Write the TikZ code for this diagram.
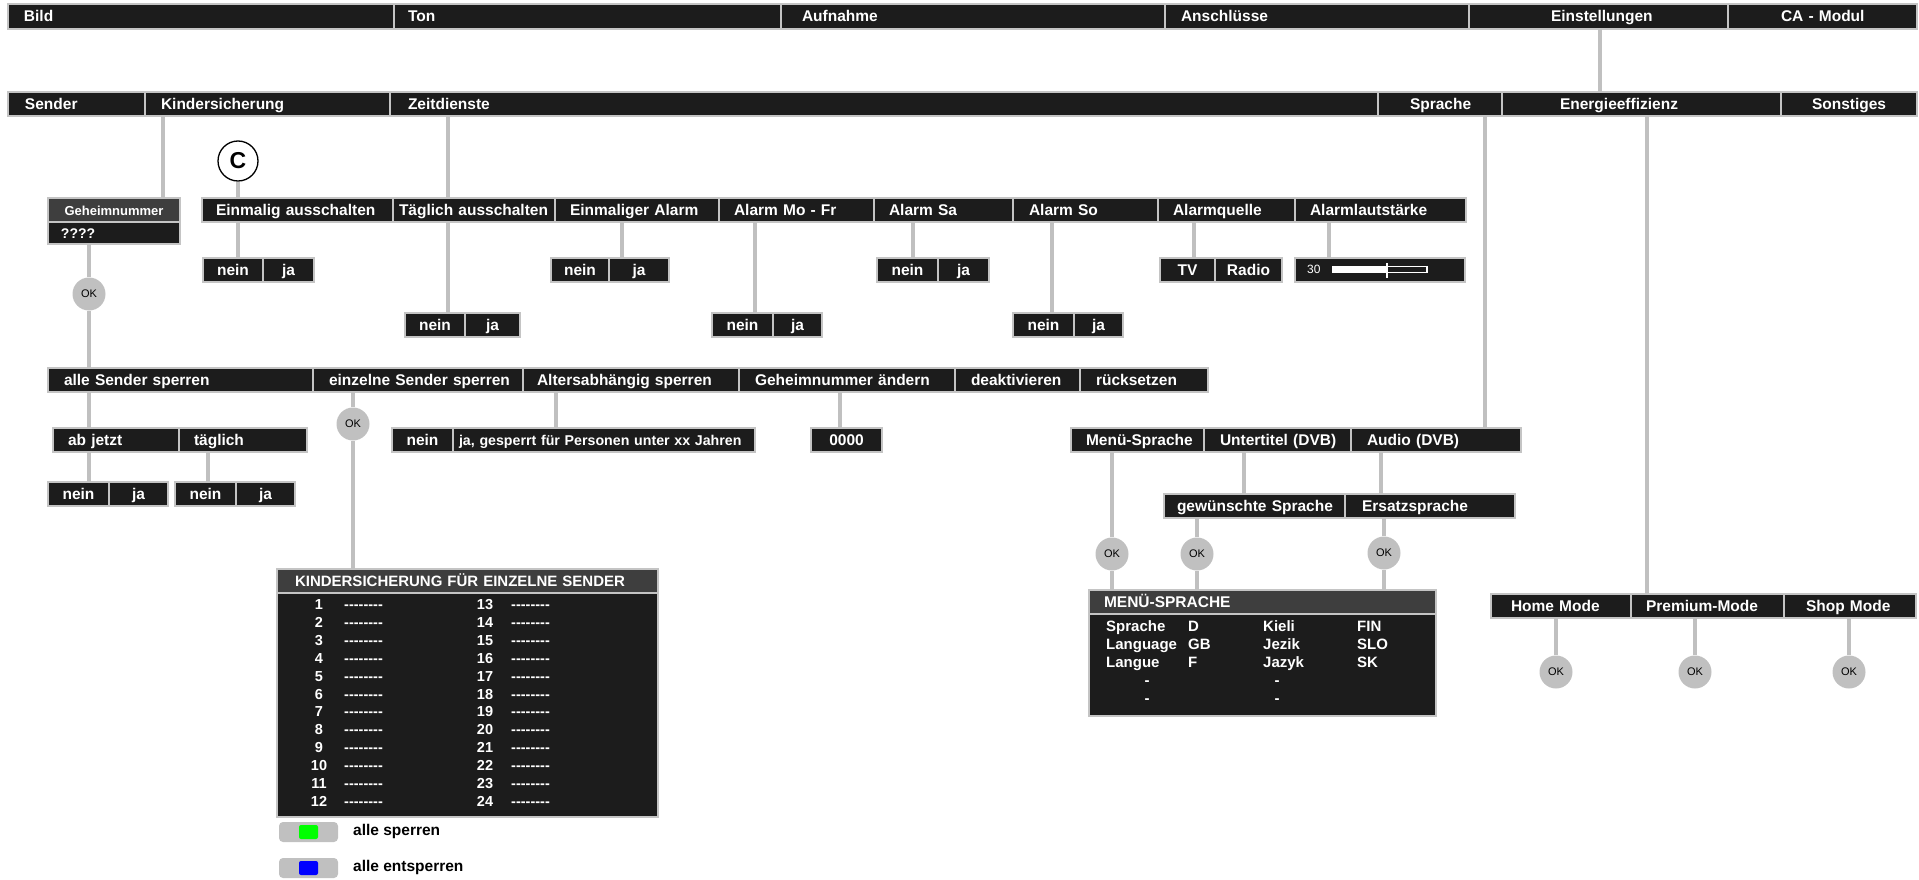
\documentclass[tikz,border=0pt]{standalone}
\usepackage{fontspec}
\setmainfont{Liberation Sans}[Ligatures=TeXOff]
\usetikzlibrary{positioning}

\definecolor{cellbg}{HTML}{1C1C1C}
\definecolor{headbg}{HTML}{3E3E3E}
\definecolor{rim}{HTML}{C4C4C4}
\definecolor{wiregray}{HTML}{C0C0C0}

\newcommand{\cellfont}{\fontsize{15.5}{18}\selectfont\bfseries}
\newcommand{\tabfont}{\fontsize{15}{17}\selectfont\bfseries}

\tikzset{
  box/.style={draw=rim, line width=2pt, fill=cellbg, text=white, font=\cellfont,
    anchor=north west, outer sep=0pt, inner sep=0pt, minimum height=24,
    text height=13, text depth=2},
  toprow/.style={box, minimum height=25},
  head/.style={box, fill=headbg},
  cw/.style 2 args={text width=#1pt, align=left,
    execute at begin node={\hspace*{#2pt}\hbox\bgroup},
    execute at end node={\egroup}},
  cc/.style={minimum width=#1},
  wire/.style={draw=wiregray, line width=4.5pt},
  ok/.style={circle, fill=wiregray, minimum size=33, inner sep=0pt,
    font=\fontsize{11}{13}\selectfont},
  cmark/.style={circle, draw=black, line width=1.3pt, fill=white, minimum size=40,
    inner sep=0pt, font=\fontsize{23}{25}\selectfont\bfseries},
  tabtxt/.style={text=white, font=\tabfont, anchor=west, inner sep=0pt,
    text height=13, text depth=2},
  keybtn/.style={fill=wiregray, rounded corners=4pt, minimum width=59,
    minimum height=20, inner sep=0pt},
  keydot/.style={rounded corners=2pt, minimum width=19, minimum height=14, inner sep=0pt},
  legtxt/.style={font=\cellfont, anchor=west, inner sep=0pt},
}

\begin{document}
\begin{tikzpicture}[x=1pt, y=-1pt]
\useasboundingbox (0,0) rectangle (1919,880);

% main menu
\node[toprow, cw={386}{16}] (bild) at (8,4) {Bild};
\node[toprow, cw={387}{14}] (ton) at (394,4) {Ton};
\node[toprow, cw={384}{21}] (aufnahme) at (781,4) {Aufnahme};
\node[toprow, cw={304}{16}] (anschluss) at (1165,4) {Anschlüsse};
\node[toprow, cw={259}{82}] (einst) at (1469,4) {Einstellungen};
\node[toprow, cw={189}{53}] (camodul) at (1728,4) {CA - Modul};

% Einstellungen
\node[box, cw={137}{17}] (sender) at (8,92) {Sender};
\node[box, cw={245}{16}] (kinder) at (145,92) {Kindersicherung};
\node[box, cw={988}{18}] (zeit) at (390,92) {Zeitdienste};
\node[box, cw={124}{32}] (sprache) at (1378,92) {Sprache};
\node[box, cw={279}{58}] (energie) at (1502,92) {Energieeffizienz};
\node[box, cw={136}{31}] (sonst) at (1781,92) {Sonstiges};
\draw[wire] (1600,0 |- einst.south) -- (1600,0 |- energie.north);

% Kindersicherung
\node[head, cc=132, font=\fontsize{13}{15}\selectfont\bfseries] (geh) at (48,198) {Geheimnummer};
\node[box, minimum height=22, cw={132}{13}, font=\fontsize{14}{16}\selectfont\bfseries] (pin) at (48,222) {????};
\node[ok] (okpin) at (89,294) {OK};
\draw[wire] (163,0 |- kinder.south) -- (163,0 |- geh.north);
\draw[wire] (pin.south -| okpin) -- (okpin.north);

\node[box, cw={265}{16}] (alle) at (48,368) {alle Sender sperren};
\node[box, cw={210}{16}] (einzeln) at (313,368) {einzelne Sender sperren};
\node[box, cw={216}{14}] (alters) at (523,368) {Altersabhängig sperren};
\node[box, cw={216}{16}] (gehneu) at (739,368) {Geheimnummer ändern};
\node[box, cw={125}{16}] (deakt) at (955,368) {deaktivieren};
\node[box, cw={128}{16}] (reset) at (1080,368) {rücksetzen};
\draw[wire] (okpin.south) -- (okpin |- alle.north);

\node[box, cw={126}{15}] (abjetzt) at (53,428) {ab jetzt};
\node[box, cw={128}{15}] (taeglich) at (179,428) {täglich};
\node[box, cc=61] (neinB) at (48,482) {nein};
\node[box, cc=59] (jaB) at (109,482) {ja};
\node[box, cc=61] (neinC) at (175,482) {nein};
\node[box, cc=59] (jaC) at (236,482) {ja};
\draw[wire] (89,0 |- alle.south) -- (89,0 |- abjetzt.north);
\draw[wire] (89,0 |- abjetzt.south) -- (89,0 |- neinB.north);
\draw[wire] (208,0 |- taeglich.south) -- (208,0 |- neinC.north);

\node[ok] (okein) at (353,424) {OK};
\draw[wire] (einzeln.south -| okein) -- (okein.north);

\node[box, cc=61] (neinD) at (392,428) {nein};
\node[box, cw={302}{6}, font=\fontsize{14.2}{16}\selectfont\bfseries] (jaD) at (453,428) {ja, gesperrt für Personen unter xx Jahren};
\draw[wire] (556,0 |- alters.south) -- (556,0 |- jaD.north);

\node[box, cc=71] (pin0) at (811,428) {0000};
\draw[wire] (840,0 |- gehneu.south) -- (840,0 |- pin0.north);

% Zeitdienste
\node[box, cw={191}{14}] (einm) at (202,198) {Einmalig ausschalten};
\node[box, cw={162}{6}] (taegl) at (393,198) {Täglich ausschalten};
\node[box, cw={164}{15}] (alarm1) at (555,198) {Einmaliger Alarm};
\node[box, cw={155}{15}] (mofr) at (719,198) {Alarm Mo - Fr};
\node[box, cw={139}{15}] (alsa) at (874,198) {Alarm Sa};
\node[box, cw={145}{16}] (also) at (1013,198) {Alarm So};
\node[box, cw={137}{15}] (quelle) at (1158,198) {Alarmquelle};
\node[box, cw={171}{15}] (laut) at (1295,198) {Alarmlautstärke};
\draw[wire] (448,0 |- zeit.south) -- (448,0 |- taegl.north);

\node[cmark] (cbtn) at (238,161) {C};
\node[box, cc=60] (neinE) at (203,258) {nein};
\node[box, cc=51] (jaE) at (263,258) {ja};
\draw[wire] (cbtn.south) -- (cbtn |- einm.north);
\draw[wire] (einm.south -| cbtn) -- (cbtn |- neinE.north);

\node[box, cc=60] (neinF) at (405,313) {nein};
\node[box, cc=55] (jaF) at (465,313) {ja};
\draw[wire] (448,0 |- taegl.south) -- (448,0 |- neinF.north);

\node[box, cc=58] (neinG) at (551,258) {nein};
\node[box, cc=60] (jaG) at (609,258) {ja};
\draw[wire] (622,0 |- alarm1.south) -- (622,0 |- jaG.north);

\node[box, cc=61] (neinH) at (712,313) {nein};
\node[box, cc=49] (jaH) at (773,313) {ja};
\draw[wire] (755,0 |- mofr.south) -- (755,0 |- neinH.north);

\node[box, cc=61] (neinI) at (877,258) {nein};
\node[box, cc=51] (jaI) at (938,258) {ja};
\draw[wire] (913,0 |- alsa.south) -- (913,0 |- neinI.north);

\node[box, cc=61] (neinJ) at (1013,313) {nein};
\node[box, cc=49] (jaJ) at (1074,313) {ja};
\draw[wire] (1052,0 |- also.south) -- (1052,0 |- neinJ.north);

\node[box, cc=55] (tv) at (1160,258) {TV};
\node[box, cc=67] (radio) at (1215,258) {Radio};
\draw[wire] (1194,0 |- quelle.south) -- (1194,0 |- tv.north);

\node[box, cc=170] (vol) at (1295,258) {};
\draw[wire] (1329,0 |- laut.south) -- (1329,0 |- vol.north);
\node[text=white, anchor=west, inner sep=0pt, font=\fontsize{12}{14}\selectfont] (volval) at (1307,269) {30};
\fill[white] (1332,266) rectangle (1387,273);
\draw[white, line width=1.2pt] (1387,266.5) rectangle (1427,272.5);
\draw[white, line width=1.5pt] (1387,263) -- (1387,278);

% Sprache
\node[box, cw={133}{15}] (menue) at (1071,428) {Menü-Sprache};
\node[box, cw={147}{16}] (untert) at (1204,428) {Untertitel (DVB)};
\node[box, cw={170}{16}] (audio) at (1351,428) {Audio (DVB)};
\draw[wire] (1485,0 |- sprache.south) -- (1485,0 |- audio.north);

\node[box, cw={181}{13}] (wunsch) at (1164,494) {gewünschte Sprache};
\node[box, cw={170}{17}] (ersatz) at (1345,494) {Ersatzsprache};
\draw[wire] (1244,0 |- untert.south) -- (1244,0 |- wunsch.north);
\draw[wire] (1381,0 |- audio.south) -- (1381,0 |- ersatz.north);

\node[ok] (okmenue) at (1112,554) {OK};
\node[ok] (okwunsch) at (1197,554) {OK};
\node[ok] (okersatz) at (1384,553) {OK};
\node[head, cw={347}{15}] (mhead) at (1089,590) {MENÜ-SPRACHE};
\node[box, minimum width=347, minimum height=102] (mbody) at (1089,614) {};
\draw[wire] (menue.south -| okmenue) -- (okmenue.north);
\draw[wire] (okmenue.south) -- (okmenue |- mhead.north);
\draw[wire] (wunsch.south -| okwunsch) -- (okwunsch.north);
\draw[wire] (okwunsch.south) -- (okwunsch |- mhead.north);
\draw[wire] (ersatz.south -| okersatz) -- (okersatz.north);
\draw[wire] (okersatz.south) -- (okersatz |- mhead.north);

\foreach \ry/\a/\b/\c/\d/\n in {626/Sprache/D/Kieli/FIN/1, 644/Language/GB/Jezik/SLO/2, 662/Langue/F/Jazyk/SK/3}{
  \node[tabtxt] (lang\n) at (1106,\ry) {\a};
  \node[tabtxt] (code\n) at (1188,\ry) {\b};
  \node[tabtxt] (word\n) at (1263,\ry) {\c};
  \node[tabtxt] (abbr\n) at (1357,\ry) {\d};
}
\foreach \ry/\n in {680/4, 698/5}{
  \node[tabtxt, anchor=center] (dotl\n) at (1147,\ry) {-};
  \node[tabtxt, anchor=center] (dotr\n) at (1277,\ry) {-};
}

% Energieeffizienz
\node[box, cw={140}{20}] (home) at (1491,594) {Home Mode};
\node[box, cw={153}{15}] (premium) at (1631,594) {Premium-Mode};
\node[box, cw={132}{22}] (shop) at (1784,594) {Shop Mode};
\draw[wire] (1647,0 |- energie.south) -- (1647,0 |- premium.north);
\node[ok] (okhome) at (1556,672) {OK};
\node[ok] (okprem) at (1695,672) {OK};
\node[ok] (okshop) at (1849,672) {OK};
\draw[wire] (home.south -| okhome) -- (okhome.north);
\draw[wire] (premium.south -| okprem) -- (okprem.north);
\draw[wire] (shop.south -| okshop) -- (okshop.north);

% Kindersicherung fuer einzelne Sender
\node[head, cw={381}{18}, font=\tabfont] (khead) at (277,569) {KINDERSICHERUNG FÜR EINZELNE SENDER};
\node[box, minimum width=381, minimum height=224] (kbody) at (277,593) {};
\draw[wire] (okein.south) -- (okein |- khead.north);
\foreach \i in {1,...,12}{
  \pgfmathsetmacro\ry{604+(\i-1)*17.9}
  \pgfmathtruncatemacro\j{\i+12}
  \node[tabtxt, anchor=center, font=\fontsize{14.5}{16}\selectfont\bfseries] (nr\i) at (319,\ry) {\i};
  \node[tabtxt, font=\fontsize{14.5}{16}\selectfont\bfseries] (ch\i) at (344,\ry) {--------};
  \node[tabtxt, anchor=center, font=\fontsize{14.5}{16}\selectfont\bfseries] (nr\j) at (485,\ry) {\j};
  \node[tabtxt, font=\fontsize{14.5}{16}\selectfont\bfseries] (ch\j) at (511,\ry) {--------};
}

\node[keybtn] (btnlock) at (308.5,832) {};
\node[keydot, fill=green] (dotlock) at (btnlock) {};
\node[legtxt] (txtlock) at (353,831) {alle sperren};
\node[keybtn] (btnfree) at (308.5,868) {};
\node[keydot, fill=blue] (dotfree) at (btnfree) {};
\node[legtxt] (txtfree) at (353,867) {alle entsperren};
\end{tikzpicture}
\end{document}
